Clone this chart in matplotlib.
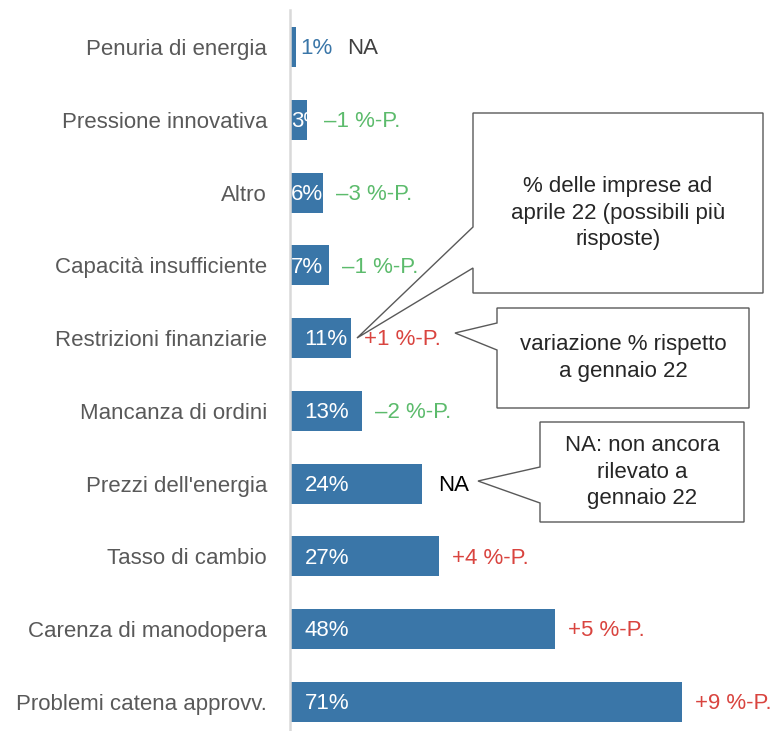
import matplotlib
matplotlib.use("Agg")
import matplotlib.pyplot as plt
from matplotlib.patches import Polygon

plt.rcParams['font.family'] = ['Liberation Sans', 'DejaVu Sans']

categories = ["Problemi catena approvv.", "Carenza di manodopera", "Tasso di cambio",
              "Prezzi dell'energia", "Mancanza di ordini", "Restrizioni finanziarie",
              "Capacità insufficiente", "Altro", "Pressione innovativa", "Penuria di energia"]
values = [71, 48, 27, 24, 13, 11, 7, 6, 3, 1]
changes = ["+9 %-P.", "+5 %-P.", "+4 %-P.", "NA", "\u20132 %-P.", "+1 %-P.",
           "\u20131 %-P.", "\u20133 %-P.", "\u20131 %-P.", "NA"]

BAR = "#3A76A8"
RED = "#D9443F"
GREEN = "#5CBB6C"
GRAY = "#595959"
FS = 16
DY = -1.2

W, H = 777, 731
fig = plt.figure(figsize=(W / 100, H / 100), dpi=100)
ax = fig.add_axes([290 / W, 0, (W - 290) / W, 721 / H])
ypos = list(range(len(categories)))
bars = ax.barh(ypos, values, height=0.55, color=BAR, zorder=2)
ax.set_xlim(0, (W - 290) / 5.52)
ax.set_ylim(-0.4, 9.51)
ax.set_yticks(ypos)
ax.set_yticklabels(categories, fontsize=FS, color=GRAY)
ax.tick_params(axis='y', length=0, pad=16.5)
ax.set_xticks([])
for s in ["top", "right", "bottom"]:
    ax.spines[s].set_visible(False)
ax.spines["left"].set_color("#D9D9D9")
ax.spines["left"].set_linewidth(1.8)
ax.spines["left"].set_zorder(3)

for bar, v, c, y in zip(bars, values, changes, ypos):
    if v >= 10:
        t = ax.annotate(f"{v}%", (0, y), xytext=(10.5, DY), textcoords="offset points",
                        va="center", ha="left", color="white", fontsize=FS, zorder=4)
    elif v >= 2:
        t = ax.annotate(f"{v}%", (0, y), xytext=(0.5, DY), textcoords="offset points",
                        va="center", ha="left", color="white", fontsize=FS, zorder=4)
        t.set_clip_path(bar)
    else:
        t = ax.annotate(f"{v}%", (v, y), xytext=(3.5, DY), textcoords="offset points",
                        va="center", ha="left", color=BAR, fontsize=FS, zorder=4)
    if c == "NA":
        col = "#404040" if v < 2 else "black"
        off = 37 if v < 2 else 11
    else:
        col = RED if c.startswith("+") else GREEN
        off = 12.5 if v < 5 else 9.5
    ax.annotate(c, (v, y), xytext=(off, DY), textcoords="offset points",
                va="center", ha="left", color=col, fontsize=FS, zorder=4)


def px(x, y):
    return (x / W, 1 - y / H)


def callout(pts, text, center):
    poly = Polygon([px(*p) for p in pts], closed=True, transform=fig.transFigure,
                   facecolor="white", edgecolor="#595959", linewidth=1.0, zorder=5)
    fig.add_artist(poly)
    fig.text(*px(*center), text, ha="center", va="center", fontsize=FS,
             color="#262626", linespacing=1.35, zorder=6)


callout([(473, 113), (763, 113), (763, 293), (473, 293), (473, 268), (357, 338), (473, 227)],
        "% delle imprese ad\naprile 22 (possibili più\nrisposte)", (618, 213))
callout([(497, 308), (749, 308), (749, 408), (497, 408), (497, 350), (455, 333), (497, 323)],
        "variazione % rispetto\na gennaio 22", (623, 358))
callout([(540, 422), (744, 422), (744, 522), (540, 522), (540, 503), (478, 481), (540, 467)],
        "NA: non ancora\nrilevato a\ngennaio 22", (642, 472))

fig.savefig("out.png", dpi=100)
